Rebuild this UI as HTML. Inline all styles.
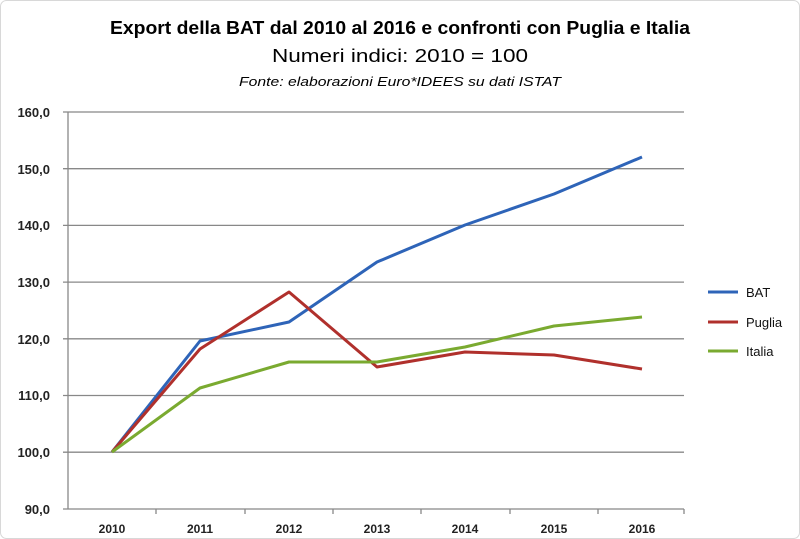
<!DOCTYPE html>
<html><head><style>body{margin:0;background:#fff}svg{display:block}</style></head><body>
<svg width="800" height="539" xmlns="http://www.w3.org/2000/svg" font-family="Liberation Sans, sans-serif">
<rect x="0.5" y="0.5" width="799" height="538" rx="6" fill="#fff" stroke="#d8d8d8"/>
<text x="400" y="34" text-anchor="middle" font-size="18" font-weight="bold" fill="#000" textLength="580" lengthAdjust="spacingAndGlyphs">Export della BAT dal 2010 al 2016 e confronti con Puglia e Italia</text>
<text x="400" y="62" text-anchor="middle" font-size="18" fill="#000" textLength="256" lengthAdjust="spacingAndGlyphs">Numeri indici: 2010 = 100</text>
<text x="400" y="86" text-anchor="middle" font-size="13" font-style="italic" fill="#000" textLength="322" lengthAdjust="spacingAndGlyphs">Fonte: elaborazioni Euro*IDEES su dati ISTAT</text>
<g stroke="#888" stroke-width="1.3">
<line x1="63" y1="112" x2="684" y2="112"/><line x1="63" y1="168.7" x2="684" y2="168.7"/>
<line x1="63" y1="225.4" x2="684" y2="225.4"/><line x1="63" y1="282.1" x2="684" y2="282.1"/>
<line x1="63" y1="338.8" x2="684" y2="338.8"/><line x1="63" y1="395.5" x2="684" y2="395.5"/>
<line x1="63" y1="452.2" x2="684" y2="452.2"/><line x1="63" y1="509" x2="684" y2="509"/>
<line x1="68" y1="112" x2="68" y2="509"/>
<line x1="156" y1="509" x2="156" y2="514"/><line x1="245" y1="509" x2="245" y2="514"/><line x1="333" y1="509" x2="333" y2="514"/><line x1="421" y1="509" x2="421" y2="514"/><line x1="510" y1="509" x2="510" y2="514"/><line x1="598" y1="509" x2="598" y2="514"/><line x1="684" y1="509" x2="684" y2="514"/>
</g>
<g font-size="13" font-weight="bold" fill="#222" text-anchor="end">
<text x="50" y="117">160,0</text><text x="50" y="174">150,0</text><text x="50" y="230">140,0</text><text x="50" y="287">130,0</text><text x="50" y="344">120,0</text><text x="50" y="400">110,0</text><text x="50" y="457">100,0</text><text x="50" y="514">90,0</text>
</g>
<g font-size="12" font-weight="bold" fill="#222" text-anchor="middle">
<text x="112" y="533">2010</text><text x="200" y="533">2011</text><text x="289" y="533">2012</text><text x="377" y="533">2013</text><text x="465" y="533">2014</text><text x="554" y="533">2015</text><text x="642" y="533">2016</text>
</g>
<g fill="none" stroke-width="3" stroke-linejoin="round">
<polyline stroke="#2e64b8" points="112,452 200,341 289,322 377,262 465,225 554,194 642,157"/>
<polyline stroke="#b0302c" points="112,452 200,349 289,292 377,367 465,352 554,355 642,369"/>
<polyline stroke="#7aaa30" points="112,452 200,388 289,362 377,362 465,347 554,326 642,317"/>
</g>
<line x1="708" y1="292" x2="738" y2="292" stroke="#2e64b8" stroke-width="3"/>
<line x1="708" y1="322" x2="738" y2="322" stroke="#b0302c" stroke-width="3"/>
<line x1="708" y1="351" x2="738" y2="351" stroke="#7aaa30" stroke-width="3"/>
<g font-size="13" fill="#111"><text x="746" y="297">BAT</text><text x="746" y="327">Puglia</text><text x="746" y="356">Italia</text></g>
</svg>
</body></html>
